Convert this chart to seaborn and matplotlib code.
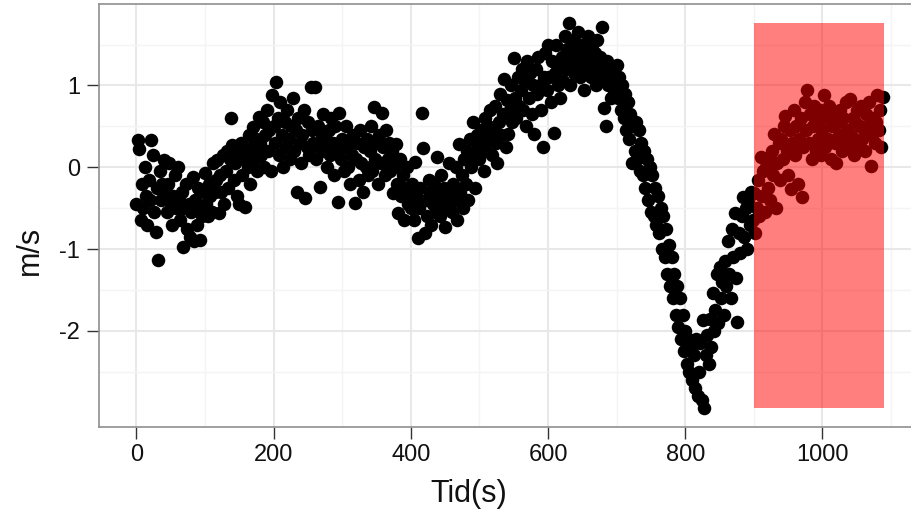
import numpy as np
import pandas as pd
import matplotlib
matplotlib.use("Agg")
import matplotlib.pyplot as plt
from matplotlib.patches import Rectangle
import seaborn as sns

# ---- data ----
t_start, t_step, t_end = 0, 2, 1090
speed = [
    -0.45, 0.33, 0.22, -0.65, -0.2, -0.5, 0.0, -0.35, -0.7, -0.15,
    -0.4, 0.33, 0.15, -0.55, -0.79, -0.25, -1.13, -0.05, -0.4, -0.2,
    0.09, -0.3, -0.55, -0.2, 0.05, -0.45, -0.7, -0.35, -0.1, -0.5,
    0.0, -0.4, -0.65, -0.3, -0.98, -0.5, -0.2, -0.75, -0.45, -0.85,
    -0.55, -0.12, -0.9, -0.4, -0.7, -0.25, -0.89, -0.5, -0.6, -0.3,
    -0.07, -0.45, -0.6, -0.2, -0.35, -0.55, 0.05, -0.3, -0.15, 0.09,
    -0.56, -0.1, -0.3, 0.15, -0.45, -0.05, 0.2, -0.25, 0.1, 0.6,
    0.27, -0.15, 0.05, -0.35, 0.15, -0.45, 0.3, -0.1, 0.1, -0.49,
    0.2, 0.0, 0.4, -0.2, 0.25, 0.49, 0.1, 0.35, -0.05, 0.61,
    0.3, 0.15, 0.55, 0.0, 0.4, 0.7, 0.2, 0.45, -0.05, 0.88,
    0.5, 0.3, 1.04, 0.6, 0.15, 0.8, 0.4, 0.0, 0.55, 0.25,
    0.7, 0.35, 0.1, 0.5, 0.85, 0.2, 0.45, -0.3, 0.6, 0.3,
    0.05, 0.4, 0.7, -0.38, 0.25, 0.55, 0.15, 0.98, 0.45, 0.3,
    0.98, 0.1, 0.5, 0.25, -0.24, 0.4, 0.65, 0.2, 0.35, 0.0,
    0.45, 0.15, 0.6, 0.3, -0.1, 0.5, 0.2, -0.42, 0.66, 0.1,
    0.35, -0.05, 0.25, 0.5, 0.0, 0.3, -0.2, 0.15, 0.4, -0.44,
    0.1, 0.3, -0.15, 0.45, 0.05, -0.3, 0.25, 0.0, 0.35, -0.1,
    0.2, 0.5, -0.05, 0.74, 0.1, 0.3, -0.2, 0.4, 0.05, 0.66,
    0.25, -0.1, 0.45, 0.1, 0.3, -0.05, 0.2, -0.32, 0.0, 0.29,
    -0.2, -0.56, 0.1, -0.35, -0.1, -0.65, -0.25, 0.0, -0.45, -0.3,
    -0.5, -0.2, -0.65, 0.06, -0.35, -0.87, -0.5, -0.25, 0.66, 0.23,
    -0.8, -0.4, -0.6, -0.15, -0.3, -0.7, -0.45, -0.2, -0.55, 0.12,
    -0.35, -0.6, -0.1, -0.45, -0.25, -0.73, -0.5, -0.3, 0.05, -0.4,
    -0.55, -0.2, -0.4, 0.0, -0.65, 0.29, -0.3, -0.1, -0.5, 0.1,
    -0.2, 0.2, -0.4, 0.35, 0.0, 0.55, 0.15, -0.25, 0.4, 0.25,
    0.1, 0.45, 0.3, -0.05, 0.6, 0.2, 0.5, 0.35, 0.7, 0.15,
    0.45, 0.75, 0.3, 0.05, 0.55, 0.9, 0.4, 0.65, 1.08, 0.25,
    0.82, 0.41, 0.7, 1.0, 0.55, 1.33, 0.85, 0.6, 1.1, 0.75,
    0.95, 1.2, 0.7, 1.05, 0.5, 1.3, 0.85, 1.15, 0.65, 1.0,
    0.41, 1.2, 0.9, 1.35, 1.0, 0.7, 0.25, 1.1, 1.4, 0.95,
    1.49, 1.1, 0.8, 1.3, 0.42, 1.15, 1.5, 1.0, 1.25, 0.85,
    1.35, 1.05, 1.6, 1.2, 1.45, 1.76, 1.0, 1.3, 1.55, 1.15,
    1.4, 1.25, 1.65, 1.1, 1.5, 1.3, 0.95, 1.45, 1.2, 1.6,
    1.3, 1.1, 1.5, 1.25, 1.4, 1.0, 1.55, 1.2, 1.35, 1.71,
    1.1, 0.73, 0.51, 1.3, 1.0, 1.2, 0.85, 1.15, 0.95, 1.05,
    1.25, 0.85, 1.1, 0.7, 1.0, 0.6, 0.9, 0.45, 0.8, 0.35,
    0.65, 0.05, 0.5, 0.2, 0.55, 0.1, 0.45, -0.05, 0.3, -0.1,
    0.2, -0.25, 0.1, -0.4, 0.0, -0.55, -0.1, -0.6, -0.25, -0.7,
    -0.35, -0.8, -0.5, -1.0, -0.6, -1.1, -0.75, -1.3, -0.95, -1.45,
    -1.1, -1.6, -1.3, -1.8, -1.45, -1.95, -1.6, -2.1, -1.8, -2.25,
    -2.0, -2.4, -2.1, -2.5, -2.2, -2.6, -2.3, -2.7, -2.1, -2.8,
    -2.5, -2.15, -2.85, -1.87, -2.94, -2.3, -2.05, -2.4, -1.85, -2.2,
    -1.54, -2.0, -1.75, -1.3, -1.9, -1.22, -1.6, -1.4, -1.8, -1.15,
    -1.45, -0.9, -1.3, -1.6, -0.75, -1.1, -0.56, -1.35, -1.89, -0.8,
    -1.05, -0.6, -0.36, -0.85, -0.5, -1.0, -0.4, -0.7, -0.3, -0.65,
    -0.32, -0.8, -0.5, -0.15, -0.6, 0.12, -0.35, -0.05, -0.55, 0.0,
    -0.25, 0.1, -0.4, 0.2, -0.1, 0.41, -0.5, 0.05, 0.3, -0.15,
    0.35, 0.1, 0.5, 0.63, 0.2, -0.1, 0.45, -0.26, 0.3, 0.7,
    0.15, 0.5, -0.2, 0.35, 0.6, -0.36, 0.25, 0.8, 0.45, 0.94,
    0.3, 0.65, 0.1, 0.5, 0.75, 0.2, 0.55, 0.35, 0.7, 0.15,
    0.45, 0.88, 0.25, 0.6, 0.35, 0.75, 0.1, 0.5, 0.65, 0.3,
    0.05, 0.55, 0.4, 0.7, 0.2, 0.6, 0.35, 0.8, 0.45, 0.25,
    0.84, 0.4, 0.6, 0.15, 0.55, 0.7, 0.3, 0.5, 0.75, 0.35,
    0.45, 0.2, 0.65, 0.5, 0.8, 0.02, 0.4, 0.6, 0.3, 0.55,
    0.88, 0.45, 0.7, 0.25, 0.86,
]
highlight_start = 900
x_ticks = [0, 200, 400, 600, 800, 1000]
y_ticks = [-2, -1, 0, 1]
x_label = "Tid(s)"
y_label = "m/s"

tid = np.arange(t_start, t_end, t_step)
df = pd.DataFrame({"tid": tid[:len(speed)], "speed": speed})

# ---- style ----
sns.set_theme(style="white")
plt.rcParams["font.family"] = ["Liberation Sans", "DejaVu Sans"]

W, H = 911, 515
fig = plt.figure(figsize=(W / 100, H / 100), dpi=100)
ax = fig.add_axes([99 / W, 1 - 427 / H, (W - 99) / W, (427 - 4) / H])

sns.scatterplot(data=df, x="tid", y="speed", ax=ax, color="black",
                s=95, linewidth=0, legend=False)
for coll in ax.collections:
    coll.set_zorder(3)

# highlighted region, drawn over the points
ymin, ymax = df["speed"].min(), df["speed"].max()
xmax = df["tid"].max()
ax.add_patch(Rectangle((highlight_start, ymin), xmax + 1 - highlight_start,
                       ymax - ymin, facecolor="red", alpha=0.5,
                       linewidth=0, zorder=5))

yr = ymax - ymin
ax.set_xlim(-54.5, 1129)
ax.set_ylim(ymin - 0.05 * yr, ymax + 0.05 * yr)

ax.set_xticks(x_ticks)
ax.set_xticks([100, 300, 500, 700, 900, 1100], minor=True)
ax.set_yticks(y_ticks)
ax.set_yticks([-2.5, -1.5, -0.5, 0.5, 1.5], minor=True)
ax.set_yticklabels([str(v) for v in y_ticks])
ax.grid(True, which="major", color="#e8e8e8", linewidth=1.5, zorder=0)
ax.grid(True, which="minor", color="#f4f4f4", linewidth=1.0, zorder=0)
ax.set_axisbelow(True)

for side in ["left", "bottom", "top"]:
    ax.spines[side].set_visible(True)
    ax.spines[side].set_color("#8f8f8f")
    ax.spines[side].set_linewidth(1.2)
ax.spines["right"].set_visible(False)

ax.tick_params(axis="both", which="major", direction="out", length=8.5,
               width=1.0, color="#333333", labelsize=17, labelcolor="#111111")
ax.tick_params(axis="x", which="major", pad=4, bottom=True)
ax.tick_params(axis="y", which="major", pad=5, left=True)
ax.tick_params(which="minor", length=0)

ax.set_xlabel(x_label, fontsize=22, color="#111111")
ax.set_ylabel(y_label, fontsize=22, color="#111111")
ax.xaxis.set_label_coords((469 - 99) / (W - 99), -0.122)
ax.yaxis.set_label_coords(-0.066, 0.418)

fig.savefig("out.png", dpi=100)
